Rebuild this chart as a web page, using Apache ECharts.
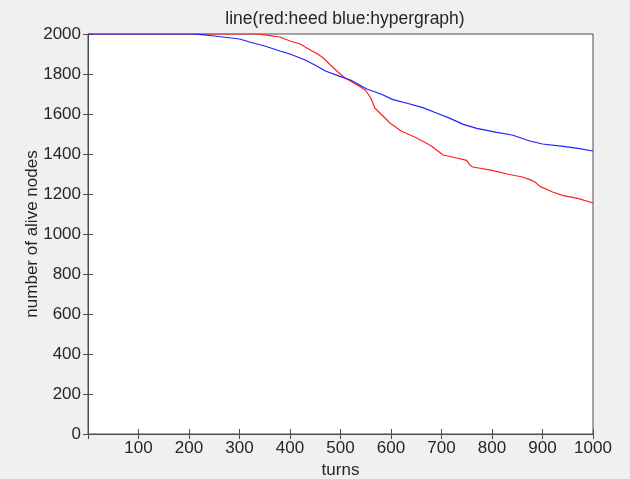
<!DOCTYPE html>
<html>
<head>
<meta charset="utf-8">
<script src="https://cdn.jsdelivr.net/npm/echarts@6/dist/echarts.min.js"></script>
<style>
html,body{margin:0;padding:0;background:#f0f0f0;}
#chart{width:630px;height:479px;}
</style>
</head>
<body>
<div id="chart"></div>
<script>
// Data
const turnsRed = [0, 100, 200, 300, 335, 360, 380, 400, 420, 440, 455, 466, 480, 495, 509, 530, 549, 560, 568, 580, 598, 620, 651, 680, 703, 730, 750, 756, 762, 800, 830, 860, 875, 885, 895, 920, 941, 970, 1000];
const heed = [2000, 2000, 2000, 2000, 2000, 1992, 1985, 1965, 1950, 1920, 1900, 1880, 1845, 1810, 1780, 1750, 1720, 1680, 1630, 1600, 1555, 1515, 1480, 1440, 1395, 1380, 1368, 1345, 1335, 1318, 1300, 1285, 1272, 1260, 1238, 1210, 1192, 1178, 1155];
const turnsBlue = [0, 100, 200, 220, 250, 300, 320, 350, 380, 400, 430, 453, 470, 499, 520, 552, 580, 604, 630, 663, 690, 717, 743, 770, 809, 840, 875, 900, 941, 970, 1000];
const hypergraph = [2000, 2000, 2000, 1998, 1990, 1975, 1960, 1940, 1915, 1900, 1870, 1840, 1815, 1788, 1770, 1725, 1700, 1672, 1655, 1632, 1605, 1578, 1548, 1528, 1508, 1495, 1465, 1450, 1438, 1428, 1415];
const titleText = 'line(red:heed blue:hypergraph)';
const xName = 'turns';
const yName = 'number of alive nodes';

const chart = echarts.init(document.getElementById('chart'));
const axisColor = '#4d4d4d';
const labelColor = '#262626';
const font = 'Liberation Sans, Arial, sans-serif';
const pair = (xs, ys) => xs.map((x, i) => [x, ys[i]]);
const plain = v => String(v);

chart.setOption({
  backgroundColor: '#f0f0f0',
  animation: false,
  title: {
    text: titleText, left: 340, top: 5, textAlign: 'center',
    textStyle: {fontFamily: font, fontSize: 17.5, fontWeight: 'normal', color: labelColor}
  },
  grid: {left: 88, right: 37, top: 34, bottom: 45, containLabel: false, outerBoundsMode: 'none', show: true, backgroundColor: '#ffffff', borderColor: axisColor, borderWidth: 1},
  xAxis: [{
    type: 'value', min: 0, max: 1000, interval: 100,
    name: xName, nameLocation: 'middle', nameGap: 28, nameMoveOverlap: false,
    nameTextStyle: {fontFamily: font, fontSize: 17, color: labelColor},
    axisLine: {show: true, lineStyle: {color: axisColor}},
    axisTick: {show: true, inside: true, length: 5, lineStyle: {color: axisColor}},
    axisLabel: {showMinLabel: false, formatter: plain, fontFamily: font, fontSize: 17, color: labelColor, margin: 6},
    splitLine: {show: false}
  }, {
    type: 'value', min: 0, max: 1000, interval: 100, position: 'top',
    axisLine: {show: true, lineStyle: {color: axisColor}},
    axisTick: {show: true, inside: true, length: 5, lineStyle: {color: axisColor}},
    axisLabel: {show: false}, splitLine: {show: false}
  }],
  yAxis: [{
    type: 'value', min: 0, max: 2000, interval: 200,
    name: yName, nameLocation: 'middle', nameGap: 47, nameRotate: 90, nameMoveOverlap: false,
    nameTextStyle: {fontFamily: font, fontSize: 17, color: labelColor},
    axisLine: {show: true, lineStyle: {color: axisColor}},
    axisTick: {show: true, inside: true, length: 5, lineStyle: {color: axisColor}},
    axisLabel: {formatter: plain, fontFamily: font, fontSize: 17, color: labelColor, margin: 7},
    splitLine: {show: false}
  }, {
    type: 'value', min: 0, max: 2000, interval: 200, position: 'right',
    axisLine: {show: true, lineStyle: {color: axisColor}},
    axisTick: {show: true, inside: true, length: 5, lineStyle: {color: axisColor}},
    axisLabel: {show: false}, splitLine: {show: false}
  }],
  series: [{
    name: 'heed', type: 'line', data: pair(turnsRed, heed), showSymbol: false,
    lineStyle: {color: '#ff2020', width: 1.2}, itemStyle: {color: '#ff2020'}, z: 3
  }, {
    name: 'hypergraph', type: 'line', data: pair(turnsBlue, hypergraph), showSymbol: false,
    lineStyle: {color: '#2020ff', width: 1.2}, itemStyle: {color: '#2020ff'}, z: 4
  }]
});
</script>
</body>
</html>
